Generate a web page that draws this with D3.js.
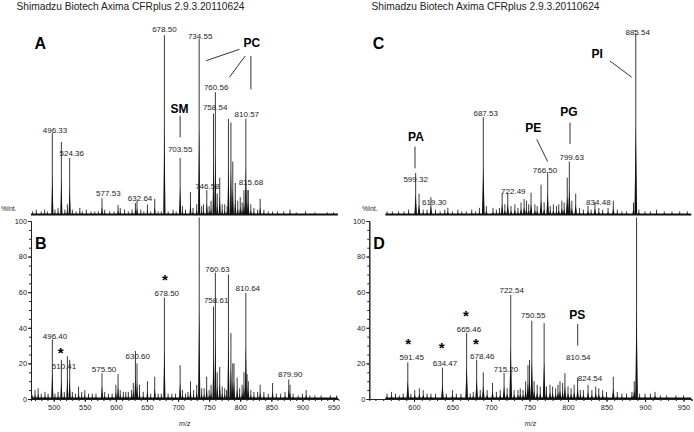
<!DOCTYPE html>
<html>
<head>
<meta charset="utf-8">
<script src="https://cdn.jsdelivr.net/npm/d3@7"></script>
<style>
  body { margin: 0; background: #fff; }
  svg { display: block; font-family: "Liberation Sans", Arial, sans-serif; }
</style>
</head>
<body>
<svg width="694" height="432"></svg>
<script>
// titel boven elk paneel
const titleText = "Shimadzu Biotech Axima CFRplus 2.9.3.20110624"

// tick labels
const xTicksLeft = [500, 550, 600, 650, 700, 750, 800, 850, 900, 950]
const xTicksRight = [600, 650, 700, 750, 800, 850, 900, 950]
const yTicks = [0, 20, 40, 60, 80, 100]

const peaksA = [[466,2],[472,3],[480,2],[485.5,3],[490,2],[497.8,46],[502,3],[507,4],[512.3,41],[518,3],[522,6],[525.7,32],[530,3],[536,2],[542,4],[546,2],[552.5,3],[560,2],[566,2],[572,2],[577.7,9.4],[582,3],[590,2],[597,2],[603.5,5.6],[607,4],[614,3],[620,2],[626,3],[631.4,6.7],[634,8],[640,3],[645,2],[650.7,6],[656,2],[662.5,9],[668,2],[673,2],[678,101],[684,2],[692,3],[697,2],[703.3,32],[707,5],[712,3],[719.9,13],[724,4],[730,6],[733.9,99],[738,5],[741,6],[746.2,14],[750,5],[753,8],[757,57],[760,69],[763,12],[767,21],[771,6],[775,6],[779,5],[781,54],[785,52],[788,30],[792,18],[796,8],[800,10],[803,7],[806,14],[809,54],[811,14],[813,14],[817,6],[822,4],[828,3],[832,9],[838,3],[845,2],[852,2],[860,2],[870,2],[880,3],[890,1.5],[905,2],[920,1.5],[940,1.5],[950,1.5]]
const peaksB = [[466,2],[470,5],[475,6],[480,3],[486,4],[491,3],[497.8,33.5],[502,3],[507,4],[512.3,22],[517,4],[522,24],[525.7,22],[530,4],[535,3],[540,7],[545,4],[550,5],[556,3],[562,3],[568,3],[577.7,14.5],[582,4],[588,3],[594,3],[600,8],[603.5,14],[607,5],[612,4],[616,4],[620,4],[625,5],[628,9],[631.4,27],[634,20],[638,8],[644,4],[650.7,10],[656,3],[662.5,12.5],[668,3],[673,3],[678,57],[684,3],[690,3],[696,3],[703.3,19],[707,5],[712,3],[716,4],[720,10],[725,5],[730,8],[734,102],[738,6],[742,6],[746,12.5],[750,5],[753,8],[757,52],[760,71],[763,15],[767,18],[771,7],[775,6],[778,5],[781,70],[785,37],[788,20],[790,20],[795,12],[799,6],[803,8],[806,15],[809,59.5],[811,14],[813,10],[817,5],[822,4],[828,4],[832,8],[838,4],[845,3],[852,9],[858,3],[865,3],[872,4],[878,11],[880,8],[885,3],[893,2],[900,3],[906,5],[912,2],[920,2],[930,2],[945,2],[955,2]]
const peaksC = [[565,2],[572,2],[580,2],[587,2],[593,3],[602.2,23.6],[606.6,12],[612,3],[617,3],[622,10],[628,3],[634,2],[640,3],[644,4],[650,2],[657,3],[662,2],[668,2],[675,3],[680,2],[685,4],[690,55],[694,5],[702.6,4],[707,3],[711,4],[714.5,12.5],[718,6],[721.8,12.4],[726,5],[731,6],[735,4],[739,7],[743,9],[746,8],[749,6],[752,12.5],[757,6],[760,5],[765,17],[769,7],[773.6,24],[777,5],[781,6],[785,5],[788,6],[792,8],[795,7],[799,21],[801.7,30],[805,8],[810,12],[815,4],[820,3],[826,5],[830,3],[835,7],[840,4],[845,3],[852,4],[858.8,8],[864,3],[870,2],[876,2],[885,7],[888,102],[892,3],[900,2],[907,2],[915,3],[925,2],[935,2],[945,2],[955,2]]
const peaksD = [[565,3],[570.9,4],[576,3],[581,2],[586,3],[592,20.6],[596,3],[601,5],[607,6],[612,5],[617,3],[622,3],[628,3],[637,17.6],[642,3],[650,5],[655,3],[661,3],[668.4,37],[673,3],[677,4],[681.4,22],[686,5],[690,15],[695,5],[702,9],[707,4],[712,5],[717,14.6],[721,6],[725.6,58.4],[730,5],[735,5],[738,6],[741.6,5],[745,10],[748,19],[750,22],[753,44],[756,10],[760,8],[764,7],[769,42.6],[772,7],[776.6,8],[780,7],[784,6],[787,8],[789.6,10],[793,9],[796,14.6],[800,7],[804,6],[808,8],[812.5,12],[816,5],[820,5],[826,8],[831,5],[836,7],[840,6],[845,5],[850,4],[858.8,12.5],[864,4],[870,3],[876,3],[883,4],[886,10],[889,102],[893,3],[900,3],[907,3],[913,4],[920,2],[928,2],[940,2],[950,2]]

// piek labels [tekst, m/z, %Int]
const labelsA = [["496.33",502.1,46.3],["524.36",529,33],["577.53",587.9,10.8],["632.64",638.9,7.7],["678.50",678,102.6],["734.55",735.5,99],["703.55",703.3,35.2],["760.56",761.2,70],["758.54",759.6,58.8],["810.57",810.6,55],["746.58",747.2,14.8],["815.68",817.1,17]]
const labelsB = [["496.40",502.1,33.9],["510.41",516.6,17],["575.50",581,15],["630.60",635.2,22.6],["678.50",681.9,57.7],["760.63",763.3,71.3],["758.61",761.2,53.9],["810.64",812.2,60.5],["879.90",880.3,12.2]]
const labelsC = [["885.54",890.5,101.3],["687.53",693.1,55.8],["599.32",602.2,18.5],["619.30",626.4,5.8],["722.49",729,12],["766.50",770.1,23.6],["799.63",804.8,30.7],["834.48",839.4,5.8]]
const labelsD = [["591.45",597,22.1],["634.47",640.3,18.4],["665.46",671.4,37.6],["678.46",688.7,22.6],["715.20",719.5,15],["722.54",726.9,59.6],["750.55",754.9,45.5],["810.54",813.4,22.1],["824.54",828.6,9.9]]

// lipide klassen [tekst, m/z, %Int]
const classesA = [["PC",818.7,96.8],["SM",702.2,60]]
const classesC = [["PI",838,90.8],["PG",801.3,58],["PE",755,49],["PA",602.6,44]]
const classesD = [["PS",812.1,47.6]]
const classLinesA = [[745.1,86.7,798.7,93.1],[782.6,77.4,807.9,89.3],[817.1,89.3,817.1,70.6],[703.3,55.8,703.3,43.6]]
const classLinesC = [[854.5,86.5,882.7,77.4],[802.6,51.9,802.6,39.9],[759.4,42.5,773.6,30],[601.3,38.4,601.3,26.2]]
const classLinesD = [[812.6,42.1,812.6,30]]

// sterretjes [m/z, %Int]
const starsB = [[679,68.5],[511.3,27.5]]
const starsD = [[592.6,33],[636,30.3],[667.5,48.6],[680.5,32.6]]

let svg = d3.select("svg")

let xLeft = d3.scaleLinear().domain([463.5, 958]).range([31, 338.5])
let xRight = d3.scaleLinear().domain([542, 960.6]).range([369.3, 691.7])
let yTop = d3.scaleLinear().domain([0, 100]).range([215, 37])
let yBottom = d3.scaleLinear().domain([0, 100]).range([399, 221])

let drawSpectrum = (x, y, peaks, start, end) => {
    let g = svg.append("g")
    // piek lijnen
    g.selectAll("line.peak")
        .data(peaks)
        .enter()
        .append("line")
        .attr("class", "peak")
        .attr("x1", d => x(d[0]))
        .attr("x2", d => x(d[0]))
        .attr("y1", y(0))
        .attr("y2", d => y(d[1]))
        .attr("stroke", "#3a3a3a")
        .attr("stroke-width", 1)
    // zwarte voet van de piek
    g.selectAll("path.foot")
        .data(peaks)
        .enter()
        .append("path")
        .attr("class", "foot")
        .attr("d", d => "M" + x(d[0] - 1.8) + "," + y(0) + "L" + x(d[0]) + "," + y(d[1] * 0.5) + "L" + x(d[0] + 1.8) + "," + y(0) + "Z")
        .attr("fill", "#111")
    // basislijn
    g.append("line")
        .attr("x1", x(start)).attr("x2", x(end))
        .attr("y1", y(0) - 0.5).attr("y2", y(0) - 0.5)
        .attr("stroke", "#111")
        .attr("stroke-width", 1.8)
}

let drawLabels = (x, y, labels) => {
    svg.append("g").selectAll("text")
        .data(labels)
        .enter()
        .append("text")
        .attr("x", d => x(d[1]))
        .attr("y", d => y(d[2]))
        .attr("text-anchor", "middle")
        .style("font-size", "8px")
        .style("fill", "#222")
        .text(d => d[0])
}

let drawClasses = (x, y, classes, lines) => {
    svg.append("g").selectAll("text")
        .data(classes)
        .enter()
        .append("text")
        .attr("x", d => x(d[1]))
        .attr("y", d => y(d[2]))
        .attr("dy", "0.36em")
        .attr("text-anchor", "middle")
        .style("font-size", "12px")
        .style("font-weight", "bold")
        .text(d => d[0])
    svg.append("g").selectAll("line")
        .data(lines)
        .enter()
        .append("line")
        .attr("x1", d => x(d[0])).attr("y1", d => y(d[1]))
        .attr("x2", d => x(d[2])).attr("y2", d => y(d[3]))
        .attr("stroke", "#333")
        .attr("stroke-width", 1)
}

let drawStars = (x, y, stars) => {
    svg.append("g").selectAll("text")
        .data(stars)
        .enter()
        .append("text")
        .attr("x", d => x(d[0]))
        .attr("y", d => y(d[1]))
        .attr("dy", "0.55em")
        .attr("text-anchor", "middle")
        .style("font-size", "15px")
        .style("font-weight", "bold")
        .text("*")
}

let drawAxes = (x, ticks) => {
    let major = d3.axisBottom(x).tickValues(ticks).tickSize(3).tickSizeOuter(0).tickPadding(3)
    let minor = d3.axisBottom(x).tickValues(d3.range(Math.ceil(x.domain()[0] / 10) * 10, x.domain()[1], 10)).tickSize(2).tickFormat("")
    svg.append("g").attr("transform", "translate(0," + yBottom(0) + ")").call(minor)
    let gx = svg.append("g").attr("transform", "translate(0," + yBottom(0) + ")").call(major)
    gx.selectAll("text").style("font-size", "7.4px").style("fill", "#222")

    let yMajor = d3.axisLeft(yBottom).tickValues(yTicks).tickSize(3).tickSizeOuter(0).tickPadding(1)
    let yMinor = d3.axisLeft(yBottom).tickValues(d3.range(0, 101, 5)).tickSize(2).tickFormat("")
    let x0 = x.range()[0]
    svg.append("g").attr("transform", "translate(" + x0 + ",0)").call(yMinor)
    let gy = svg.append("g").attr("transform", "translate(" + x0 + ",0)").call(yMajor)
    gy.selectAll("text").style("font-size", "7.4px").style("fill", "#222")
    svg.selectAll(".domain").attr("stroke", "#222")
    svg.selectAll(".tick line").attr("stroke", "#222")
}

let drawTexts = (left, xAxis, letterTop, letterBottom) => {
    svg.append("text").attr("x", left + 16.5).attr("y", 10)
        .style("font-size", "10.2px").style("fill", "#222").text(titleText)
    svg.append("text").attr("x", left + (left == 0 ? 1 : 7)).attr("y", 211)
        .style("font-size", "6.8px").style("fill", "#222").text("%Int.")
    svg.append("text").attr("x", (xAxis.range()[0] + xAxis.range()[1]) / 2).attr("y", 426)
        .attr("text-anchor", "middle")
        .style("font-size", "7px").style("font-style", "italic").style("fill", "#222").text("m/z")
    svg.append("text").attr("x", xAxis.range()[0] + 3.5).attr("y", 49)
        .style("font-size", "16px").style("font-weight", "bold").text(letterTop)
    svg.append("text").attr("x", xAxis.range()[0] + 4).attr("y", 249)
        .style("font-size", "16px").style("font-weight", "bold").text(letterBottom)
}

// links: A en B
drawSpectrum(xLeft, yTop, peaksA, 463.5, 957)
drawSpectrum(xLeft, yBottom, peaksB, 463.5, 957)
drawAxes(xLeft, xTicksLeft)
drawLabels(xLeft, yTop, labelsA)
drawLabels(xLeft, yBottom, labelsB)
drawClasses(xLeft, yTop, classesA, classLinesA)
drawStars(xLeft, yBottom, starsB)
drawTexts(0, xLeft, "A", "B")

// rechts: C en D
drawSpectrum(xRight, yTop, peaksC, 563, 960)
drawSpectrum(xRight, yBottom, peaksD, 563, 960)
drawAxes(xRight, xTicksRight)
drawLabels(xRight, yTop, labelsC)
drawLabels(xRight, yBottom, labelsD)
drawClasses(xRight, yTop, classesC, classLinesC)
drawClasses(xRight, yBottom, classesD, classLinesD)
drawStars(xRight, yBottom, starsD)
drawTexts(355, xRight, "C", "D")
</script>
</body>
</html>
